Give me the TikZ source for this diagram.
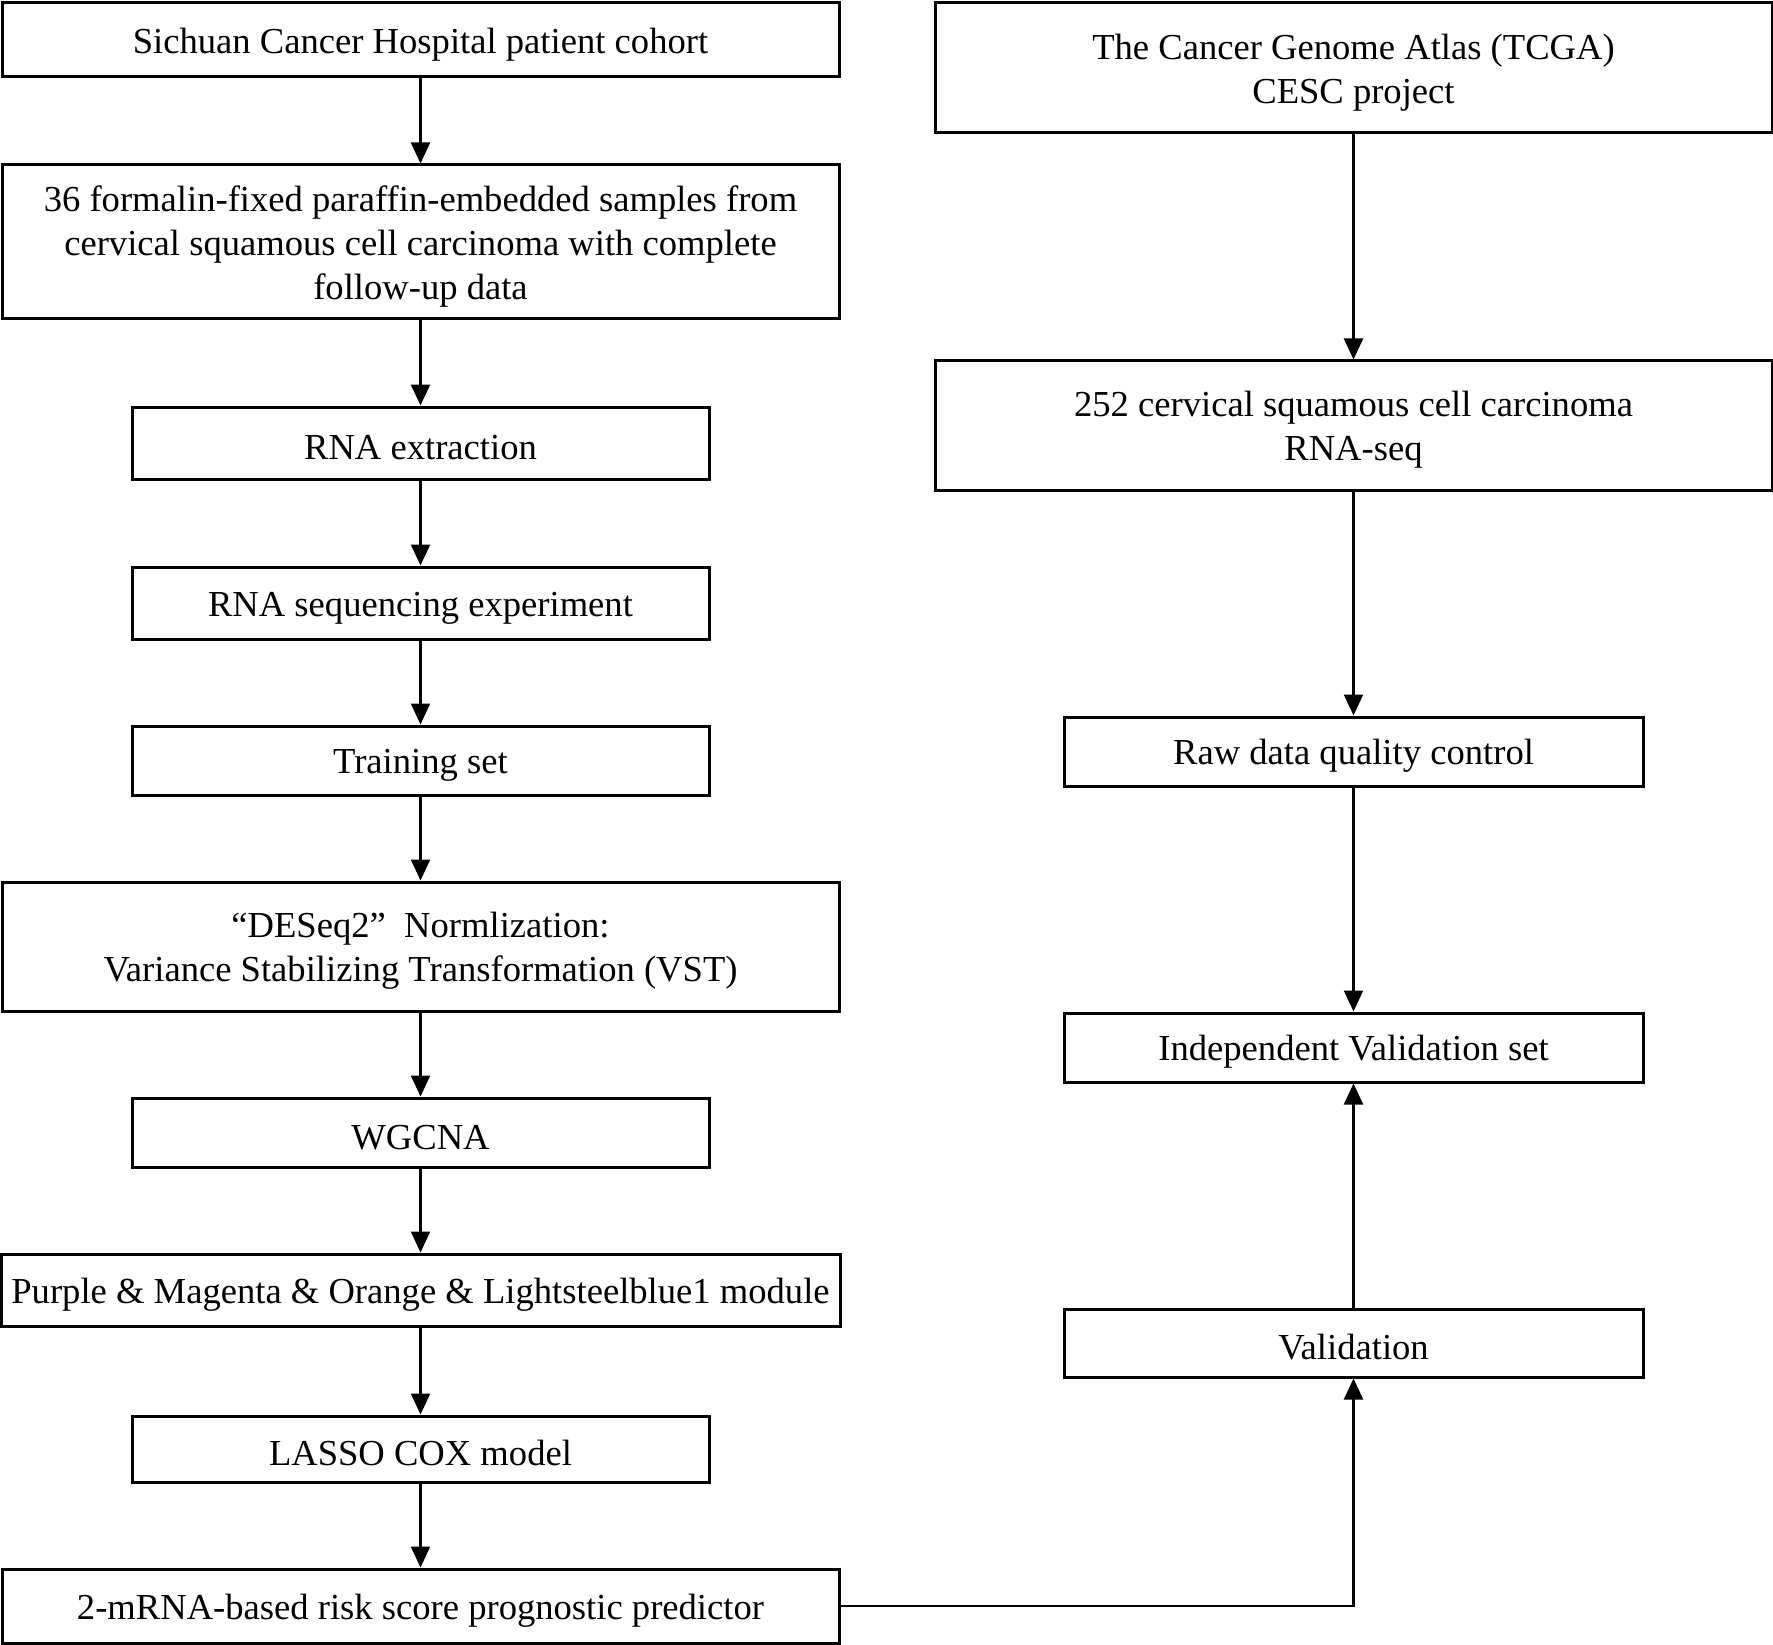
\documentclass[tikz,border=0pt]{standalone}
\usepackage{fontspec}
\setmainfont{Liberation Serif}
\usetikzlibrary{arrows.meta}
\newcommand{\topstrut}{\rule{0pt}{34pt}}
\begin{document}
\begin{tikzpicture}[x=1pt,y=-1pt,
  box/.style={draw=black, line width=3pt, align=center, inner sep=0pt,
    font=\fontsize{36.6}{44}\selectfont},
  arr/.style={line width=2.2pt, -{Triangle[length=21pt,width=19pt]}}]
\useasboundingbox[fill=white] (0,0) rectangle (1773,1645);
% left column
\node[box, minimum width=837pt, minimum height=74pt] (a1) at (420.5,40) {\topstrut Sichuan Cancer Hospital patient cohort};
\node[box, minimum width=837pt, minimum height=154pt] (a2) at (420.5,242) {\topstrut 36 formalin-fixed paraffin-embedded samples from\\cervical squamous cell carcinoma with complete\\follow-up data};
\node[box, minimum width=577pt, minimum height=72pt] (a3) at (420.5,443) {\topstrut RNA extraction};
\node[box, minimum width=577pt, minimum height=72pt] (a4) at (420.5,603) {\topstrut RNA sequencing experiment};
\node[box, minimum width=577pt, minimum height=69pt] (a5) at (420.5,760.5) {\topstrut Training set};
\node[box, minimum width=837pt, minimum height=129pt] (a6) at (420.5,946.5) {\topstrut “DESeq2”\hspace{0.5em}Normlization:\\Variance Stabilizing Transformation (VST)};
\node[box, minimum width=577pt, minimum height=69pt] (a7) at (420.5,1132.5) {\topstrut WGCNA};
\node[box, minimum width=839pt, minimum height=72pt] (a8) at (420.5,1290) {\topstrut Purple \& Magenta \& Orange \& Lightsteelblue1 module};
\node[box, minimum width=577pt, minimum height=66pt] (a9) at (420.5,1449) {\topstrut LASSO COX model};
\node[box, minimum width=837pt, minimum height=74pt] (a10) at (420.5,1606) {\topstrut 2-mRNA-based risk score prognostic predictor};
% right column
\node[box, minimum width=837pt, minimum height=130pt] (b1) at (1353.5,68) {\topstrut The Cancer Genome Atlas (TCGA)\\CESC project};
\node[box, minimum width=837pt, minimum height=129pt] (b2) at (1353.5,425.5) {\topstrut 252 cervical squamous cell carcinoma\\RNA-seq};
\node[box, minimum width=579pt, minimum height=69pt] (b3) at (1353.5,751.5) {\topstrut Raw data quality control};
\node[box, minimum width=579pt, minimum height=69pt] (b4) at (1353.5,1047.5) {\topstrut Independent Validation set};
\node[box, minimum width=579pt, minimum height=68pt] (b5) at (1353.5,1343) {\topstrut Validation};
% connectors
\foreach \u/\v in {a1/a2,a2/a3,a3/a4,a4/a5,a5/a6,a6/a7,a7/a8,a8/a9,a9/a10,b1/b2,b2/b3,b3/b4,b5/b4}
  \draw[arr] (\u) -- (\v);
\draw[arr] (a10.east) -| (b5.south);
\end{tikzpicture}
\end{document}
